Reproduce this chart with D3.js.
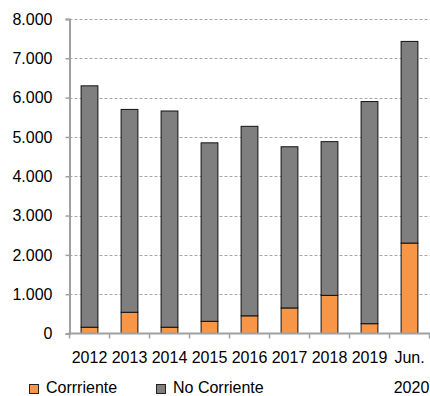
<!DOCTYPE html>
<html>
<head>
<meta charset="utf-8">
<script src="https://cdn.jsdelivr.net/npm/d3@7"></script>
<style>
  html, body { margin: 0; padding: 0; background: #fff; }
  svg { display: block; font-family: "Liberation Sans", Arial, sans-serif; }
</style>
</head>
<body>
<svg id="chart" width="430" height="396"></svg>
<script>
// Categories (second line of a label after "|")
const categories = ["2012", "2013", "2014", "2015", "2016", "2017", "2018", "2019", "Jun.|2020"];
// Current portion
const corriente = [160, 540, 160, 310, 450, 650, 970, 250, 2300];
// Non-current portion
const noCorriente = [6140, 5160, 5500, 4540, 4820, 4100, 3910, 5650, 5130];
const yTicks = [0, 1000, 2000, 3000, 4000, 5000, 6000, 7000, 8000];
const seriesNames = ["Corrriente", "No Corriente"];
const seriesColors = ["#F79646", "#7F7F7F"];

const svg = d3.select("#chart");
const plotLeft = 69.5, plotRight = 429.5, plotTop = 19, plotBottom = 333.5;

const x = d3.scaleBand().domain(categories).range([plotLeft, plotRight]).paddingInner(0.58).paddingOuter(0.29);
const y = d3.scaleLinear().domain([0, 8000]).range([plotBottom, plotTop]);

const fmt = v => d3.format(",")(v).replace(/,/g, ".");

// horizontal grid
svg.append("g")
  .selectAll("line")
  .data(yTicks.filter(d => d > 0))
  .join("line")
  .attr("x1", plotLeft).attr("x2", 430)
  .attr("y1", d => Math.round(y(d)) + 0.5).attr("y2", d => Math.round(y(d)) + 0.5)
  .attr("stroke", "#A6A6A6").attr("stroke-width", 1)
  .attr("stroke-dasharray", "3,2");

// stacked bars
const rows = categories.map((c, i) => ({ cat: c, vals: [corriente[i], noCorriente[i]] }));
const stackData = rows.map(r => {
  let acc = 0;
  return r.vals.map((v, k) => { const s = { cat: r.cat, k, y0: acc, y1: acc + v }; acc += v; return s; });
}).flat();

svg.append("g")
  .selectAll("rect")
  .data(stackData)
  .join("rect")
  .attr("x", d => x(d.cat))
  .attr("width", x.bandwidth())
  .attr("y", d => y(d.y1))
  .attr("height", d => y(d.y0) - y(d.y1))
  .attr("fill", d => seriesColors[d.k])
  .attr("stroke", "#111")
  .attr("stroke-width", 1);

// y axis
const yAxis = d3.axisLeft(y).tickValues(yTicks).tickFormat(fmt).tickSize(4).tickPadding(13);
const gy = svg.append("g").attr("transform", `translate(${plotLeft},0)`).call(yAxis);
gy.select(".domain").attr("stroke", "#A0A0A0").attr("stroke-width", 2);
gy.selectAll(".tick line").attr("stroke", "#A0A0A0").attr("stroke-width", 1.5);
gy.selectAll(".tick text").attr("font-size", 16).attr("fill", "#000")
  .attr("font-family", "'Liberation Sans', Arial, sans-serif");

// x axis with ticks at band edges
const gx = svg.append("g");
gx.append("line").attr("x1", plotLeft - 1).attr("x2", 430).attr("y1", plotBottom).attr("y2", plotBottom)
  .attr("stroke", "#A0A0A0").attr("stroke-width", 2);
const edges = categories.map(c => x(c) - x.step() * x.paddingInner() / 2).concat([plotRight]);
gx.selectAll("line.t").data(edges).join("line").attr("class", "t")
  .attr("x1", d => d).attr("x2", d => d).attr("y1", plotBottom).attr("y2", plotBottom + 5)
  .attr("stroke", "#A0A0A0").attr("stroke-width", 1.5);

const labels = gx.selectAll("text.cat").data(categories).join("text").attr("class", "cat")
  .attr("text-anchor", "middle").attr("font-size", 16).attr("fill", "#000");
labels.each(function (c) {
  const parts = c.split("|");
  const cx = x(c) + x.bandwidth() / 2;
  const t = d3.select(this);
  parts.forEach((p, i) => {
    t.append("tspan").attr("x", cx + (i === 1 ? 2 : 0)).attr("y", 363 + i * 30).text(p);
  });
});

// legend
const legend = svg.append("g");
const lx = [29, 156];
seriesNames.forEach((n, i) => {
  legend.append("rect").attr("x", lx[i] + 0.5).attr("y", 384.5).attr("width", 9).attr("height", 9)
    .attr("fill", seriesColors[i]).attr("stroke", "#222").attr("stroke-width", 1);
  legend.append("text").attr("x", lx[i] + 17).attr("y", 393).attr("font-size", 16).attr("fill", "#000").text(n);
});
</script>
</body>
</html>
